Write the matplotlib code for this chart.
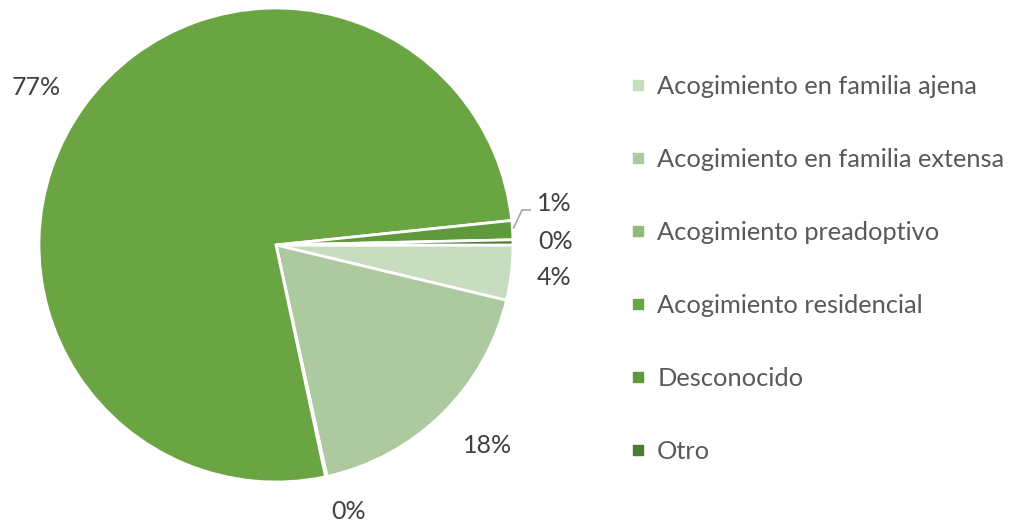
import matplotlib
matplotlib.use("Agg")
import matplotlib.pyplot as plt
from matplotlib.lines import Line2D
import numpy as np

plt.rcParams['font.family'] = ['Lato', 'DejaVu Sans']

categories = ["Acogimiento en familia ajena", "Acogimiento en familia extensa",
              "Acogimiento preadoptivo", "Acogimiento residencial",
              "Desconocido", "Otro"]
values = [3.75, 17.8, 0.1, 76.7, 1.3, 0.35]
labels_pct = ["4%", "18%", "0%", "77%", "1%", "0%"]
colors = ["#c8dcbf", "#adc9a0", "#8fba78", "#6ba543", "#5e9a3b", "#4b7c30"]

W, H = 1015, 525
fig = plt.figure(figsize=(W / 100, H / 100), dpi=100)
cx, cy, R = 276, 245, 237
ax = fig.add_axes([(cx - R) / W, (H - cy - R) / H, 2 * R / W, 2 * R / H])

wedges, texts = ax.pie(values, colors=colors, startangle=0, counterclock=False,
                       labels=labels_pct, labeldistance=1.18,
                       wedgeprops=dict(edgecolor="white", linewidth=2),
                       textprops=dict(color="#404040", fontsize=18))
for t in texts:
    t.set_ha("center")
    t.set_va("center")
    t.set_clip_on(False)

def place(i, r, dang):
    w = wedges[i]
    a = np.deg2rad((w.theta1 + w.theta2) / 2 + dang)
    texts[i].set_position((r * np.cos(a), r * np.sin(a)))

place(1, 1.23, 2.0)
place(2, 1.165, 3.0)
place(3, 1.21, 2.7)

# move the "1%" label up with a leader line
w = wedges[4]
mid = np.deg2rad((w.theta1 + w.theta2) / 2)
x0, y0 = np.cos(mid) * 1.0, np.sin(mid) * 1.0
texts[4].set_position((1.175, 0.175))
ax.plot([x0 + 0.005, x0 + 0.04, x0 + 0.075], [y0 + 0.01, y0 + 0.085, y0 + 0.085],
        color="#a6a6a6", lw=1.2, clip_on=False)
ax.set_xlim(-1, 1)
ax.set_ylim(-1, 1)
ax.set_aspect("equal")
ax.axis("off")

handles = [Line2D([0], [0], marker="s", linestyle="none", markersize=7.5,
                  markerfacecolor=c, markeredgecolor=c) for c in colors]
leg = fig.legend(handles, categories, loc="upper left",
                 bbox_to_anchor=(628 / W, 1 - 75 / H), frameon=False,
                 fontsize=18.3, labelspacing=1.97, handlelength=0.8,
                 handletextpad=0.35, borderaxespad=0, borderpad=0)
for t in leg.get_texts():
    t.set_color("#595959")

fig.savefig("out.png", dpi=100)
